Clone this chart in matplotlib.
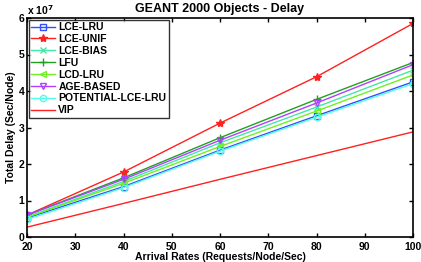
import numpy as np
import matplotlib
matplotlib.use('Agg')
import matplotlib.pyplot as plt

# arrival rates
rates = [20, 40, 60, 80, 100]

# total delay, in units of 1e7
lce_lru = [0.52, 1.38, 2.38, 3.32, 4.25]
lce_unif = [0.60, 1.78, 3.12, 4.39, 5.85]
lce_bias = [0.55, 1.52, 2.58, 3.56, 4.57]
lfu = [0.60, 1.62, 2.72, 3.77, 4.78]
lcd_lru = [0.54, 1.47, 2.48, 3.45, 4.44]
age_based = [0.60, 1.58, 2.65, 3.67, 4.72]
potential = [0.48, 1.35, 2.35, 3.28, 4.20]
vip = [0.27, 0.92, 1.58, 2.23, 2.88]

plt.rcParams.update({'font.size': 7.5, 'font.weight': 'bold',
                     'font.family': 'Liberation Sans',
                     'axes.labelweight': 'bold', 'axes.titleweight': 'bold'})

fig = plt.figure(figsize=(4.21, 2.62), dpi=100)
ax = fig.add_axes([27/421, 1 - 237/262, 386/421, 219/262])

x = np.array(rates)
s = 1e7
lw = 1.0
ax.plot(x, np.array(lce_lru)*s, '-s', color='#3050ff', lw=lw, ms=4.5, mfc='none', label='LCE-LRU')
ax.plot(x, np.array(lce_unif)*s, '-*', color='#ff2020', lw=lw, ms=6, label='LCE-UNIF')
ax.plot(x, np.array(lce_bias)*s, '-x', color='#40e8a8', lw=lw, ms=4.5, label='LCE-BIAS')
ax.plot(x, np.array(lfu)*s, '-+', color='#22a022', lw=lw, ms=6, label='LFU')
ax.plot(x, np.array(lcd_lru)*s, '-<', color='#70f020', lw=lw, ms=4.5, mfc='none', label='LCD-LRU')
ax.plot(x, np.array(age_based)*s, '-v', color='#b040ff', lw=lw, ms=4.5, mfc='none', label='AGE-BASED')
ax.plot(x, np.array(potential)*s, '-o', color='#50ffe8', lw=lw, ms=4.5, mfc='none', label='POTENTIAL-LCE-LRU')
ax.plot(x, np.array(vip)*s, '-', color='#ff2020', lw=lw, label='VIP')

ax.set_xlim(20, 100)
ax.set_ylim(0, 6e7)
ax.set_xticks(range(20, 101, 10))
ax.set_yticks(np.arange(0, 7)*1e7)
ax.ticklabel_format(axis='y', style='sci', scilimits=(7, 7))
ax.yaxis.get_offset_text().set_visible(False)
ax.text(0.0, 1.005, r'x 10$^7$', transform=ax.transAxes, fontsize=7.5,
        fontweight='bold', ha='left', va='bottom')
ax.tick_params(direction='in', top=True, right=True, length=3, width=1)
ax.tick_params(axis='x', pad=3.5)
ax.tick_params(axis='y', pad=2)
for sp in ax.spines.values():
    sp.set_linewidth(1.2)

ax.set_xlabel('Arrival Rates (Requests/Node/Sec)', labelpad=0)
ax.set_ylabel('Total Delay (Sec/Node)', labelpad=2)
ax.set_title('GEANT 2000 Objects - Delay', pad=4)

leg = ax.legend(loc='upper left', frameon=True, fancybox=False, handlelength=2.3,
                labelspacing=0.18, borderaxespad=0.15, handletextpad=0.3,
                borderpad=0.25)
leg.get_frame().set_edgecolor('black')
leg.get_frame().set_linewidth(1.0)

fig.savefig('out.png', dpi=100)
